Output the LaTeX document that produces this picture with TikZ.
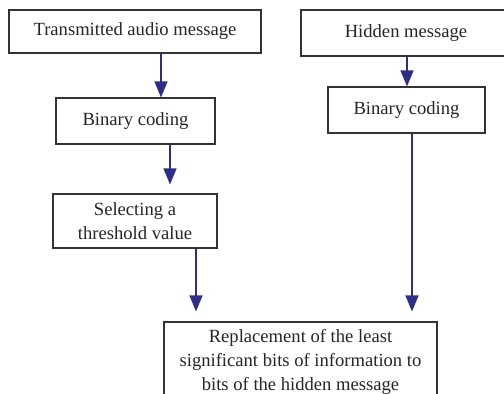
\documentclass[tikz,border=0pt]{standalone}
\usepackage{fontspec}
\setmainfont{Liberation Serif}
\usetikzlibrary{arrows.meta}
\definecolor{arrowblue}{HTML}{2E2E88}
\definecolor{boxline}{HTML}{333333}
\tikzset{
  box/.style={draw=boxline, line width=1.2pt, rectangle, inner sep=0pt, align=center,
    font=\fontsize{18.6}{24}\selectfont, text=black!85},
  arr/.style={draw=arrowblue, line width=1.3pt, -{Triangle[length=16pt,width=13pt]}}
}
\begin{document}
\begin{tikzpicture}[x=1pt,y=-1pt]
\clip (0,0) rectangle (504,394);
\useasboundingbox (0,0) rectangle (504,394);
\fill[white] (0,0) rectangle (504,394);
\node[box, minimum width=252pt, minimum height=43pt] (b1) at (135,31.5) {Transmitted audio message};
\node[box, minimum width=210pt, minimum height=46pt] (b2) at (406,33) {Hidden message};
\node[box, minimum width=159pt, minimum height=46pt] (b3) at (135.5,121) {Binary coding};
\node[box, minimum width=157pt, minimum height=46pt] (b4) at (406.5,110) {Binary coding};
\node[box, minimum width=164pt, minimum height=54pt] (b5) at (135,221) {Selecting a\\threshold value};
\node[box, minimum width=273pt, minimum height=80pt] (b6) at (300.5,362) {Replacement of the least\\significant bits of information to\\bits of the hidden message};
\coordinate (x1) at (161,0);
\coordinate (x2) at (407,0);
\coordinate (x3) at (170,0);
\coordinate (x4) at (196,0);
\coordinate (x5) at (412,0);
\draw[arr] (b1.south -| x1) -- (b3.north -| x1);
\draw[arr] (b2.south -| x2) -- (b4.north -| x2);
\draw[arr, shorten >=9pt] (b3.south -| x3) -- (b5.north -| x3);
\draw[arr, shorten >=10pt] (b5.south -| x4) -- (b6.north -| x4);
\draw[arr, shorten >=10pt] (b4.south -| x5) -- (b6.north -| x5);
\end{tikzpicture}
\end{document}
